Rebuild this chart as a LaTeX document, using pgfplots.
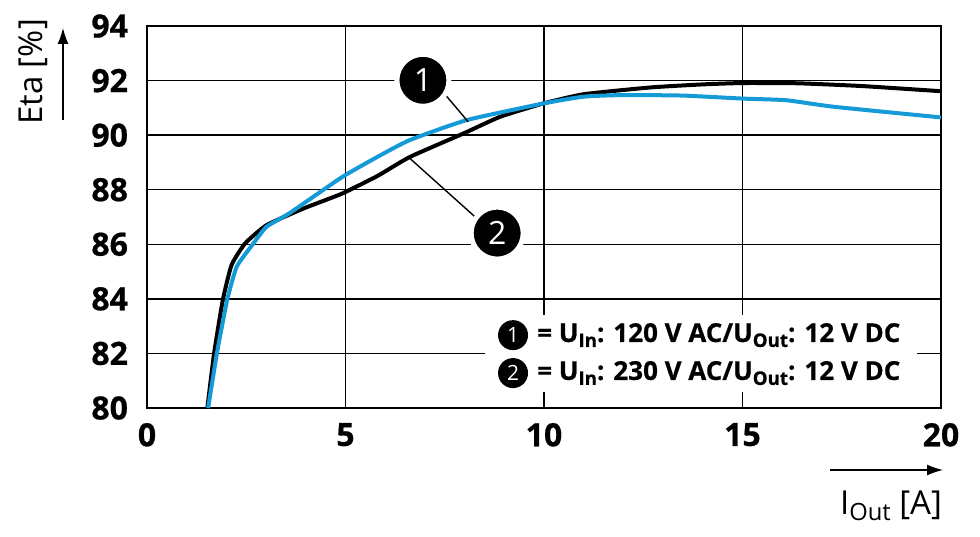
\documentclass[border=0pt]{standalone}
\usepackage{fontspec}
\setmainfont{Open Sans}
\newfontfamily\heavy{Open Sans}[FakeBold=0.6]
\usepackage{pgfplots}
\pgfplotsset{compat=1.18}
\usetikzlibrary{arrows.meta}
\definecolor{eblue}{RGB}{20,155,215}
\newcommand{\sub}[1]{\raisebox{-0.35ex}{\scalebox{0.72}{#1}}}

\begin{document}
\begin{tikzpicture}
\useasboundingbox (0,0) rectangle (490pt,268pt);
\begin{axis}[at={(73.5pt,64pt)}, anchor=south west,
  scale only axis, width=397pt, height=191pt,
  xmin=0, xmax=20, ymin=80, ymax=94,
  xtick={0,5,...,20}, ytick={80,82,...,94},
  grid=major, major grid style={black, line width=0.7pt},
  axis line style={black, line width=0.8pt},
  major tick length=0pt,
  tick label style={font=\fontsize{16}{16}\selectfont\heavy\bfseries},
  /pgf/number format/assume math mode=true,
  xticklabel style={yshift=-4pt},
  yticklabel style={xshift=-6pt},
  clip=false]

  % 120 V AC
  \addplot[black, line width=2pt, smooth, tension=0.3] coordinates {
    (1.52,80) (1.69,82) (1.91,83.96) (2.13,85.24) (2.47,86.03) (3.01,86.7)
    (3.94,87.31) (4.9,87.85) (5.8,88.5) (6.62,89.2) (7.97,90.06) (8.89,90.67)
    (9.98,91.16) (11.0,91.5) (12.7,91.75) (14,91.86) (15,91.91) (16.4,91.9)
    (18,91.8) (20,91.61)};
  % 230 V AC
  \addplot[eblue, line width=2pt, smooth, tension=0.3] coordinates {
    (1.54,80) (1.76,82) (2.02,83.96) (2.26,85.18) (2.68,86.03) (3.01,86.64)
    (3.6,87.15) (4.9,88.45) (5.8,89.2) (6.62,89.82) (8.05,90.55) (9.98,91.16)
    (11.0,91.41) (12,91.47) (13.5,91.45) (15,91.34) (16.1,91.28) (17.3,91.04)
    (20,90.65)};

  % leaders and markers
  \draw[line width=0.7pt] (axis cs:7.52,91.47) -- (axis cs:8.09,90.49);
  \draw[line width=0.7pt] (axis cs:8.26,87.01) -- (axis cs:6.62,89.15);
  \node[circle, fill=black, draw=white, line width=2.5pt, inner sep=0pt,
        minimum size=26pt, text=white, font=\fontsize{16}{16}\selectfont]
        at (axis cs:6.95,92.01) {1};
  \node[circle, fill=black, draw=white, line width=2.5pt, inner sep=0pt,
        minimum size=26pt, text=white, font=\fontsize{16}{16}\selectfont]
        at (axis cs:8.82,86.41) {2};

  % legend box
  \fill[white] (axis cs:8.51,80.59) rectangle (axis cs:19.4,83.41);
  \node[circle, fill=black, inner sep=0pt, minimum size=15pt, text=white,
        font=\fontsize{10.5}{10.5}\selectfont] at (axis cs:9.22,82.67) {1};
  \node[circle, fill=black, inner sep=0pt, minimum size=15pt, text=white,
        font=\fontsize{10.5}{10.5}\selectfont] at (axis cs:9.22,81.28) {2};
  \node[anchor=west, inner sep=0pt, font=\fontsize{13}{13}\selectfont\heavy\bfseries]
        at (axis cs:9.82,82.67) {= U\sub{In}: 120 V AC/U\sub{Out}: 12 V DC};
  \node[anchor=west, inner sep=0pt, font=\fontsize{13}{13}\selectfont\heavy\bfseries]
        at (axis cs:9.82,81.28) {= U\sub{In}: 230 V AC/U\sub{Out}: 12 V DC};
\end{axis}

% axis labels with arrows
\node[rotate=90, font=\fontsize{16.5}{16.5}\selectfont] at (16.5pt,232pt) {Eta [\%]};
\draw[-{Latex[length=8pt,width=5.5pt]}, line width=0.7pt] (31.5pt,208pt) -- (31.5pt,254pt);
\draw[-{Latex[length=8pt,width=5.5pt]}, line width=0.7pt] (415pt,33pt) -- (471.5pt,33pt);
\node[font=\fontsize{16.5}{16.5}\selectfont] at (445.5pt,15pt) {I\sub{Out} [A]};
\end{tikzpicture}
\end{document}
